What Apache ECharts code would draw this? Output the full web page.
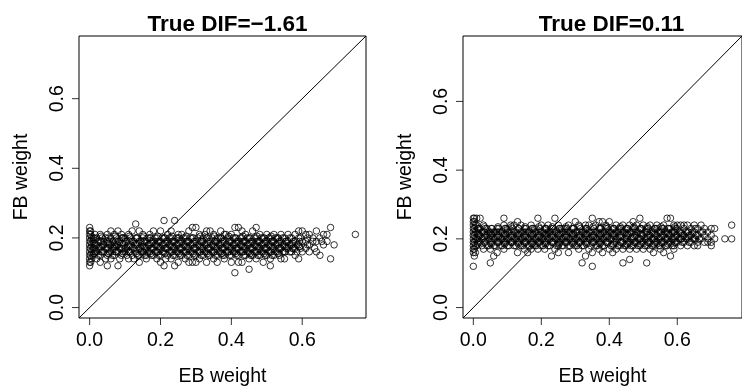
<!DOCTYPE html>
<html>
<head>
<meta charset="utf-8">
<script src="https://cdn.jsdelivr.net/npm/echarts@6/dist/echarts.min.js"></script>
<style>html,body{margin:0;padding:0;background:#fff}#c{width:742px;height:392px}</style>
</head>
<body>
<div id="c"></div>
<script>
// ---- data ----
const titles = ['True DIF=\u22121.61', 'True DIF=0.11'];
const xName = 'EB weight';
const yName = 'FB weight';
const tickValues = [0, 0.2, 0.4, 0.6];
const limLeft = [-0.03, 0.78];
const limRight = [-0.0304, 0.7904];

// [EB weight, FB weight]
const pointsLeft = [
[0,.12],[0,.13],[0,.14],[0,.15],[0,.16],[0,.17],[0,.18],[0,.19],[0,.20],[0,.21],[0,.22],[0,.23],
[.003,.13],[.003,.15],[.003,.17],[.003,.19],[.003,.21],[.003,.22],
[.006,.14],[.006,.16],[.006,.18],[.006,.20],
[.01,.15],[.01,.17],[.01,.19],[.01,.20],
[.02,.14],[.02,.16],[.02,.18],[.02,.20],
[.03,.13],[.03,.15],[.03,.17],[.03,.19],[.03,.21],
[.04,.16],[.04,.18],[.04,.19],
[.05,.12],[.05,.15],[.05,.17],[.05,.19],[.05,.21],
[.06,.14],[.06,.16],[.06,.18],[.06,.20],[.06,.22],
[.07,.15],[.07,.17],[.07,.18],[.07,.21],
[.08,.12],[.08,.16],[.08,.18],[.08,.19],[.08,.22],
[.09,.15],[.09,.17],[.09,.20],[.09,.21],
[.10,.16],[.10,.17],[.10,.19],[.10,.20],
[.11,.14],[.11,.16],[.11,.18],[.11,.21],
[.12,.15],[.12,.17],[.12,.19],[.12,.22],
[.13,.16],[.13,.18],[.13,.20],[.13,.24],
[.14,.13],[.14,.15],[.14,.17],[.14,.19],[.14,.22],
[.15,.16],[.15,.18],[.15,.20],[.15,.21],
[.16,.14],[.16,.15],[.16,.17],[.16,.19],
[.17,.16],[.17,.18],[.17,.20],[.17,.21],
[.18,.15],[.18,.17],[.18,.19],[.18,.22],
[.19,.14],[.19,.16],[.19,.18],[.19,.20],
[.20,.13],[.20,.15],[.20,.17],[.20,.19],[.20,.22],
[.21,.12],[.21,.16],[.21,.18],[.21,.20],[.21,.25],
[.22,.15],[.22,.17],[.22,.19],[.22,.21],
[.23,.14],[.23,.16],[.23,.18],[.23,.20],[.23,.22],
[.24,.12],[.24,.15],[.24,.17],[.24,.19],[.24,.25],
[.25,.13],[.25,.16],[.25,.18],[.25,.20],[.25,.21],
[.26,.15],[.26,.17],[.26,.19],[.26,.21],
[.27,.14],[.27,.16],[.27,.18],[.27,.20],
[.28,.13],[.28,.15],[.28,.17],[.28,.19],[.28,.22],
[.29,.13],[.29,.16],[.29,.18],[.29,.20],[.29,.23],
[.30,.13],[.30,.15],[.30,.17],[.30,.19],[.30,.23],
[.31,.14],[.31,.16],[.31,.18],[.31,.21],
[.32,.15],[.32,.17],[.32,.19],[.32,.20],
[.33,.13],[.33,.16],[.33,.18],[.33,.20],[.33,.22],
[.34,.15],[.34,.17],[.34,.19],[.34,.22],
[.35,.14],[.35,.16],[.35,.18],[.35,.21],
[.36,.13],[.36,.15],[.36,.17],[.36,.19],[.36,.20],
[.37,.16],[.37,.18],[.37,.20],[.37,.22],
[.38,.14],[.38,.15],[.38,.17],[.38,.19],[.38,.21],
[.39,.16],[.39,.18],[.39,.20],
[.40,.13],[.40,.15],[.40,.17],[.40,.19],[.40,.21],
[.41,.10],[.41,.16],[.41,.18],[.41,.20],[.41,.23],
[.42,.13],[.42,.15],[.42,.17],[.42,.19],[.42,.23],
[.43,.13],[.43,.16],[.43,.18],[.43,.20],[.43,.22],
[.44,.15],[.44,.17],[.44,.19],[.44,.21],
[.45,.11],[.45,.14],[.45,.16],[.45,.18],[.45,.20],
[.46,.15],[.46,.17],[.46,.19],[.46,.22],
[.47,.14],[.47,.16],[.47,.18],[.47,.20],[.47,.23],
[.48,.15],[.48,.17],[.48,.19],[.48,.21],
[.49,.13],[.49,.16],[.49,.18],[.49,.20],
[.50,.15],[.50,.17],[.50,.19],[.50,.21],
[.51,.12],[.51,.14],[.51,.16],[.51,.18],[.51,.20],
[.52,.15],[.52,.17],[.52,.19],[.52,.21],
[.53,.16],[.53,.18],[.53,.20],
[.54,.14],[.54,.17],[.54,.19],[.54,.21],
[.55,.14],[.55,.16],[.55,.18],[.55,.20],
[.56,.17],[.56,.19],[.56,.21],
[.57,.16],[.57,.18],[.57,.20],
[.58,.15],[.58,.17],[.58,.19],[.58,.21],
[.59,.14],[.59,.18],[.59,.20],[.59,.22],
[.60,.16],[.60,.19],[.60,.22],
[.61,.17],[.61,.19],[.61,.21],
[.62,.16],[.62,.18],[.62,.21],
[.63,.19],[.63,.20],
[.64,.16],[.64,.19],[.64,.22],
[.65,.15],[.65,.20],
[.66,.18],[.66,.21],
[.67,.19],[.67,.21],
[.68,.14],[.68,.23],
[.69,.18],
[.75,.21]
];
// more points of the dense core (left panel)
const pointsLeftCore = [
[.015,.16],[.015,.18],[.015,.21],[.025,.15],[.025,.17],[.025,.19],
[.035,.16],[.035,.18],[.035,.20],[.045,.14],[.045,.17],[.045,.20],
[.055,.16],[.055,.18],[.055,.19],[.065,.15],[.065,.17],[.065,.19],
[.075,.16],[.075,.18],[.075,.20],[.085,.14],[.085,.17],[.085,.19],
[.095,.16],[.095,.18],[.095,.20],[.105,.15],[.105,.17],[.105,.19],
[.115,.16],[.115,.18],[.115,.20],[.125,.14],[.125,.17],[.125,.19],
[.135,.15],[.135,.18],[.135,.20],[.145,.16],[.145,.17],[.145,.19],
[.155,.15],[.155,.17],[.155,.19],[.165,.16],[.165,.18],[.165,.20],
[.175,.15],[.175,.17],[.175,.19],[.185,.16],[.185,.18],[.185,.20],
[.195,.15],[.195,.17],[.195,.19],[.205,.16],[.205,.18],[.205,.20],
[.215,.14],[.215,.17],[.215,.19],[.225,.16],[.225,.18],[.225,.20],
[.235,.15],[.235,.17],[.235,.19],[.245,.16],[.245,.18],[.245,.20],
[.255,.15],[.255,.17],[.255,.19],[.265,.16],[.265,.18],[.265,.20],
[.275,.15],[.275,.17],[.275,.19],[.285,.16],[.285,.18],[.285,.20],
[.295,.15],[.295,.17],[.295,.19],[.305,.16],[.305,.18],[.305,.20],
[.315,.15],[.315,.17],[.315,.19],[.325,.16],[.325,.18],[.325,.21],
[.335,.15],[.335,.17],[.335,.19],[.345,.16],[.345,.18],[.345,.20],
[.355,.15],[.355,.17],[.355,.19],[.365,.16],[.365,.18],[.365,.20],
[.375,.15],[.375,.17],[.375,.19],[.385,.16],[.385,.18],[.385,.21],
[.395,.15],[.395,.17],[.395,.19],[.405,.16],[.405,.18],[.405,.20],
[.415,.15],[.415,.17],[.415,.19],[.425,.16],[.425,.18],[.425,.20],
[.435,.15],[.435,.17],[.435,.19],[.445,.16],[.445,.18],[.445,.20],
[.455,.15],[.455,.17],[.455,.19],[.465,.16],[.465,.18],[.465,.20],
[.475,.15],[.475,.17],[.475,.19],[.485,.16],[.485,.18],[.485,.20],
[.495,.15],[.495,.17],[.495,.19],[.505,.16],[.505,.18],[.505,.20],
[.515,.15],[.515,.17],[.515,.19],[.525,.16],[.525,.18],[.525,.20],
[.535,.15],[.535,.17],[.535,.19],[.545,.16],[.545,.18],[.545,.20],
[.555,.17],[.555,.19],[.565,.16],[.565,.18],[.565,.20],
[.575,.17],[.575,.19],[.585,.16],[.585,.18],[.595,.17],[.595,.20],
[.615,.18],[.615,.20],[.635,.17],[.655,.19]
];
const pointsLeftCore2 = [
[.0125,.155],[.0125,.17],[.0125,.185],[.0125,.20],[.0325,.16],[.0325,.175],[.0325,.19],[.0325,.205],
[.0525,.155],[.0525,.17],[.0525,.185],[.0525,.20],[.0725,.16],[.0725,.175],[.0725,.19],[.0725,.205],
[.0925,.155],[.0925,.17],[.0925,.185],[.0925,.20],[.1125,.16],[.1125,.175],[.1125,.19],[.1125,.205],
[.1325,.155],[.1325,.17],[.1325,.185],[.1325,.20],[.1525,.16],[.1525,.175],[.1525,.19],[.1525,.205],
[.1725,.155],[.1725,.17],[.1725,.185],[.1725,.20],[.1925,.16],[.1925,.175],[.1925,.19],[.1925,.205],
[.2125,.155],[.2125,.17],[.2125,.185],[.2125,.20],[.2325,.16],[.2325,.175],[.2325,.19],[.2325,.205],
[.2525,.155],[.2525,.17],[.2525,.185],[.2525,.20],[.2725,.16],[.2725,.175],[.2725,.19],[.2725,.205],
[.2925,.155],[.2925,.17],[.2925,.185],[.2925,.20],[.3125,.16],[.3125,.175],[.3125,.19],[.3125,.205],
[.3325,.155],[.3325,.17],[.3325,.185],[.3325,.20],[.3525,.16],[.3525,.175],[.3525,.19],[.3525,.205],
[.3725,.155],[.3725,.17],[.3725,.185],[.3725,.20],[.3925,.16],[.3925,.175],[.3925,.19],[.3925,.205],
[.4125,.155],[.4125,.17],[.4125,.185],[.4125,.20],[.4325,.16],[.4325,.175],[.4325,.19],[.4325,.205],
[.4525,.155],[.4525,.17],[.4525,.185],[.4525,.20],[.4725,.16],[.4725,.175],[.4725,.19],[.4725,.205],
[.4925,.155],[.4925,.17],[.4925,.185],[.4925,.20],[.5125,.16],[.5125,.175],[.5125,.19],[.5125,.205],
[.5325,.155],[.5325,.17],[.5325,.185],[.5325,.20],[.5525,.16],[.5525,.175],[.5525,.19],
[.5725,.17],[.5725,.185],[.5925,.175],[.5925,.19]
];

const pointsRight = [
[0,.12],[0,.16],[0,.17],[0,.18],[0,.19],[0,.20],[0,.21],[0,.22],[0,.23],[0,.24],[0,.25],[0,.26],
[.003,.15],[.003,.17],[.003,.19],[.003,.21],[.003,.23],[.003,.25],[.003,.26],
[.006,.16],[.006,.18],[.006,.20],[.006,.22],[.006,.24],
[.01,.18],[.01,.20],[.01,.22],[.01,.24],[.01,.26],
[.02,.19],[.02,.21],[.02,.23],[.02,.26],
[.03,.17],[.03,.20],[.03,.22],[.03,.24],
[.04,.18],[.04,.21],[.04,.23],
[.05,.13],[.05,.17],[.05,.19],[.05,.21],[.05,.22],
[.06,.15],[.06,.18],[.06,.20],[.06,.22],
[.07,.16],[.07,.19],[.07,.21],[.07,.23],
[.08,.18],[.08,.20],[.08,.22],
[.09,.17],[.09,.19],[.09,.21],[.09,.24],[.09,.26],
[.10,.18],[.10,.20],[.10,.22],[.10,.23],
[.11,.19],[.11,.21],[.11,.24],
[.12,.18],[.12,.20],[.12,.22],[.12,.24],
[.13,.16],[.13,.19],[.13,.21],[.13,.25],
[.14,.18],[.14,.20],[.14,.22],[.14,.24],
[.15,.17],[.15,.19],[.15,.21],[.15,.23],
[.16,.16],[.16,.18],[.16,.20],[.16,.22],
[.17,.17],[.17,.19],[.17,.21],[.17,.24],
[.18,.18],[.18,.20],[.18,.22],[.18,.23],
[.19,.17],[.19,.19],[.19,.21],[.19,.26],
[.20,.18],[.20,.20],[.20,.22],[.20,.24],
[.21,.17],[.21,.19],[.21,.21],[.21,.23],
[.22,.18],[.22,.20],[.22,.22],[.22,.24],
[.23,.15],[.23,.19],[.23,.21],[.23,.23],
[.24,.17],[.24,.20],[.24,.22],[.24,.26],
[.25,.16],[.25,.18],[.25,.19],[.25,.21],[.25,.24],
[.26,.18],[.26,.20],[.26,.22],[.26,.23],
[.27,.19],[.27,.21],[.27,.23],
[.28,.16],[.28,.18],[.28,.20],[.28,.22],[.28,.24],
[.29,.19],[.29,.21],[.29,.23],
[.30,.18],[.30,.20],[.30,.22],[.30,.25],
[.31,.17],[.31,.19],[.31,.21],[.31,.24],
[.32,.13],[.32,.18],[.32,.20],[.32,.22],
[.33,.15],[.33,.19],[.33,.21],[.33,.23],[.33,.24],
[.34,.17],[.34,.20],[.34,.22],[.34,.24],
[.35,.12],[.35,.16],[.35,.19],[.35,.21],[.35,.26],
[.36,.18],[.36,.20],[.36,.22],[.36,.24],
[.37,.17],[.37,.19],[.37,.21],[.37,.23],[.37,.25],
[.38,.16],[.38,.18],[.38,.20],[.38,.22],[.38,.25],
[.39,.19],[.39,.21],[.39,.23],[.39,.24],
[.40,.17],[.40,.20],[.40,.22],[.40,.25],
[.41,.16],[.41,.18],[.41,.21],[.41,.23],
[.42,.17],[.42,.19],[.42,.20],[.42,.22],[.42,.24],
[.43,.18],[.43,.21],[.43,.23],
[.44,.13],[.44,.17],[.44,.19],[.44,.22],[.44,.24],
[.45,.18],[.45,.20],[.45,.21],[.45,.23],
[.46,.14],[.46,.17],[.46,.19],[.46,.22],[.46,.24],
[.47,.18],[.47,.20],[.47,.23],[.47,.25],
[.48,.17],[.48,.19],[.48,.21],[.48,.22],[.48,.24],
[.49,.18],[.49,.20],[.49,.23],[.49,.26],
[.50,.17],[.50,.19],[.50,.21],[.50,.24],
[.51,.13],[.51,.18],[.51,.20],[.51,.22],[.51,.23],
[.52,.17],[.52,.19],[.52,.21],[.52,.24],
[.53,.16],[.53,.18],[.53,.20],[.53,.22],
[.54,.19],[.54,.21],[.54,.23],[.54,.24],
[.55,.17],[.55,.18],[.55,.20],[.55,.22],
[.56,.16],[.56,.19],[.56,.21],[.56,.23],[.56,.24],
[.57,.18],[.57,.20],[.57,.22],[.57,.26],
[.58,.15],[.58,.19],[.58,.21],[.58,.23],[.58,.26],
[.59,.17],[.59,.18],[.59,.20],[.59,.22],[.59,.24],
[.60,.19],[.60,.21],[.60,.23],[.60,.24],
[.61,.18],[.61,.20],[.61,.22],[.61,.24],
[.62,.19],[.62,.21],[.62,.23],[.62,.24],
[.63,.18],[.63,.20],[.63,.22],[.63,.24],
[.64,.19],[.64,.21],[.64,.23],
[.65,.18],[.65,.20],[.65,.22],[.65,.24],
[.66,.18],[.66,.19],[.66,.21],[.66,.23],
[.67,.20],[.67,.22],[.67,.24],
[.68,.19],[.68,.21],[.68,.23],
[.69,.19],[.69,.20],[.69,.22],
[.70,.18],[.70,.19],[.70,.21],[.70,.23],
[.71,.20],[.71,.23],
[.74,.20],
[.76,.20],[.76,.24]
];
// more points of the dense core (right panel)
const pointsRightCore = [
[.015,.19],[.015,.21],[.015,.23],[.025,.18],[.025,.20],[.025,.22],
[.035,.19],[.035,.21],[.035,.23],[.045,.18],[.045,.20],[.045,.22],
[.055,.19],[.055,.21],[.055,.23],[.065,.18],[.065,.20],[.065,.22],
[.075,.19],[.075,.21],[.075,.23],[.085,.18],[.085,.20],[.085,.22],
[.095,.19],[.095,.21],[.095,.23],[.105,.18],[.105,.20],[.105,.22],
[.115,.19],[.115,.21],[.115,.23],[.125,.18],[.125,.20],[.125,.22],
[.135,.19],[.135,.21],[.135,.23],[.145,.18],[.145,.20],[.145,.22],
[.155,.19],[.155,.21],[.155,.23],[.165,.18],[.165,.20],[.165,.22],
[.175,.19],[.175,.21],[.175,.23],[.185,.18],[.185,.20],[.185,.22],
[.195,.19],[.195,.21],[.195,.23],[.205,.18],[.205,.20],[.205,.22],
[.215,.19],[.215,.21],[.215,.23],[.225,.18],[.225,.20],[.225,.22],
[.235,.19],[.235,.21],[.235,.23],[.245,.18],[.245,.20],[.245,.22],
[.255,.19],[.255,.21],[.255,.23],[.265,.18],[.265,.20],[.265,.22],
[.275,.19],[.275,.21],[.275,.23],[.285,.18],[.285,.20],[.285,.22],
[.295,.19],[.295,.21],[.295,.23],[.305,.18],[.305,.20],[.305,.22],
[.315,.19],[.315,.21],[.315,.23],[.325,.18],[.325,.20],[.325,.22],
[.335,.19],[.335,.21],[.335,.23],[.345,.18],[.345,.20],[.345,.22],
[.355,.19],[.355,.21],[.355,.23],[.365,.18],[.365,.20],[.365,.22],
[.375,.19],[.375,.21],[.375,.23],[.385,.18],[.385,.20],[.385,.22],
[.395,.19],[.395,.21],[.395,.23],[.405,.18],[.405,.20],[.405,.22],
[.415,.19],[.415,.21],[.415,.23],[.425,.18],[.425,.20],[.425,.22],
[.435,.19],[.435,.21],[.435,.23],[.445,.18],[.445,.20],[.445,.22],
[.455,.19],[.455,.21],[.455,.23],[.465,.18],[.465,.20],[.465,.22],
[.475,.19],[.475,.21],[.475,.23],[.485,.18],[.485,.20],[.485,.22],
[.495,.19],[.495,.21],[.495,.23],[.505,.18],[.505,.20],[.505,.22],
[.515,.19],[.515,.21],[.515,.23],[.525,.18],[.525,.20],[.525,.22],
[.535,.19],[.535,.21],[.535,.23],[.545,.18],[.545,.20],[.545,.22],
[.555,.19],[.555,.21],[.555,.23],[.565,.18],[.565,.20],[.565,.22],
[.575,.19],[.575,.21],[.575,.23],[.585,.18],[.585,.20],[.585,.22],
[.595,.19],[.595,.21],[.595,.23],[.605,.20],[.605,.22],
[.615,.19],[.615,.21],[.625,.20],[.625,.22],[.635,.19],[.635,.21],
[.645,.20],[.645,.22],[.655,.21],[.665,.20],[.675,.22]
];
const pointsRightCore2 = [
[.0125,.185],[.0125,.20],[.0125,.215],[.0125,.23],[.0325,.19],[.0325,.205],[.0325,.22],[.0325,.235],
[.0525,.185],[.0525,.20],[.0525,.215],[.0525,.23],[.0725,.19],[.0725,.205],[.0725,.22],[.0725,.235],
[.0925,.185],[.0925,.20],[.0925,.215],[.0925,.23],[.1125,.19],[.1125,.205],[.1125,.22],[.1125,.235],
[.1325,.185],[.1325,.20],[.1325,.215],[.1325,.23],[.1525,.19],[.1525,.205],[.1525,.22],[.1525,.235],
[.1725,.185],[.1725,.20],[.1725,.215],[.1725,.23],[.1925,.19],[.1925,.205],[.1925,.22],[.1925,.235],
[.2125,.185],[.2125,.20],[.2125,.215],[.2125,.23],[.2325,.19],[.2325,.205],[.2325,.22],[.2325,.235],
[.2525,.185],[.2525,.20],[.2525,.215],[.2525,.23],[.2725,.19],[.2725,.205],[.2725,.22],[.2725,.235],
[.2925,.185],[.2925,.20],[.2925,.215],[.2925,.23],[.3125,.19],[.3125,.205],[.3125,.22],[.3125,.235],
[.3325,.185],[.3325,.20],[.3325,.215],[.3325,.23],[.3525,.19],[.3525,.205],[.3525,.22],[.3525,.235],
[.3725,.185],[.3725,.20],[.3725,.215],[.3725,.23],[.3925,.19],[.3925,.205],[.3925,.22],[.3925,.235],
[.4125,.185],[.4125,.20],[.4125,.215],[.4125,.23],[.4325,.19],[.4325,.205],[.4325,.22],[.4325,.235],
[.4525,.185],[.4525,.20],[.4525,.215],[.4525,.23],[.4725,.19],[.4725,.205],[.4725,.22],[.4725,.235],
[.4925,.185],[.4925,.20],[.4925,.215],[.4925,.23],[.5125,.19],[.5125,.205],[.5125,.22],[.5125,.235],
[.5325,.185],[.5325,.20],[.5325,.215],[.5325,.23],[.5525,.19],[.5525,.205],[.5525,.22],[.5525,.235],
[.5725,.185],[.5725,.20],[.5725,.215],[.5725,.23],[.5925,.19],[.5925,.205],[.5925,.22],[.5925,.235],
[.6125,.20],[.6125,.215],[.6325,.205],[.6325,.22],[.6525,.20],[.6525,.23]
];

// ---- chart ----
const FONT = "'Liberation Sans', Arial, Helvetica, sans-serif";
const FS = 19.5;
const TICK_LEN = 7;
const chart = echarts.init(document.getElementById('c'), null, {renderer: 'canvas'});

const grids = [
  {left: 79, top: 36, width: 287, height: 287},
  {left: 463, top: 36, width: 287, height: 287}
];
const lims = [limLeft, limRight];
const axisLineStyle = {show: false, onZero: false};

function xAxisFor(i) {
  return {
    type: 'value', gridIndex: i, min: lims[i][0], max: lims[i][1],
    name: xName, nameLocation: 'middle', nameGap: 49, nameMoveOverlap: false,
    nameTextStyle: {color: '#000', fontFamily: FONT, fontSize: FS},
    axisLine: axisLineStyle,
    axisTick: {show: false},
    axisLabel: {show: true, customValues: tickValues, margin: 13, color: '#000', fontFamily: FONT, fontSize: FS,
      hideOverlap: false, formatter: v => Number(v).toFixed(1)},
    splitLine: {show: false}
  };
}
function yAxisFor(i) {
  return {
    type: 'value', gridIndex: i, min: lims[i][0], max: lims[i][1],
    name: yName, nameLocation: 'middle', nameGap: 47, nameMoveOverlap: false,
    nameTextStyle: {color: '#000', fontFamily: FONT, fontSize: FS},
    axisLine: axisLineStyle,
    axisTick: {show: false},
    axisLabel: {show: true, customValues: tickValues, rotate: 90, margin: 11, color: '#000', fontFamily: FONT, fontSize: FS,
      hideOverlap: false, formatter: v => Number(v).toFixed(1)},
    splitLine: {show: false}
  };
}

const scatterStyle = {color: 'rgba(0,0,0,0)', borderColor: '#000', borderWidth: 1};
function scatter(i, data) {
  return {type: 'scatter', xAxisIndex: i, yAxisIndex: i, data: data, symbol: 'circle', symbolSize: 6.5,
    itemStyle: scatterStyle, silent: true, large: false};
}
// R-style tick marks outside the box, drawn as thin rect symbols at the tick values on the box edges
function xTickMarks(i) {
  const lo = lims[i][0];
  return {type: 'scatter', xAxisIndex: i, yAxisIndex: i, silent: true, clip: false, z: 10,
    data: tickValues.map(v => [v, lo]), symbol: 'rect', symbolSize: [1, TICK_LEN],
    symbolOffset: [0, TICK_LEN / 2], itemStyle: {color: '#000', borderWidth: 0}};
}
function yTickMarks(i) {
  const lo = lims[i][0];
  return {type: 'scatter', xAxisIndex: i, yAxisIndex: i, silent: true, clip: false, z: 10,
    data: tickValues.map(v => [lo, v]), symbol: 'rect', symbolSize: [TICK_LEN, 1],
    symbolOffset: [-TICK_LEN / 2, 0], itemStyle: {color: '#000', borderWidth: 0}};
}

chart.setOption({
  animation: false,
  backgroundColor: '#fff',
  title: [
    {text: titles[0], left: 222.5, top: 8, textAlign: 'center',
     textStyle: {fontFamily: FONT, fontSize: 22.5, fontWeight: 'bold', color: '#000'}},
    {text: titles[1], left: 606.5, top: 8, textAlign: 'center',
     textStyle: {fontFamily: FONT, fontSize: 22.5, fontWeight: 'bold', color: '#000'}}
  ],
  grid: grids.map(g => Object.assign({show: true, borderColor: '#000', borderWidth: 1, backgroundColor: 'transparent', containLabel: false}, g)),
  xAxis: [xAxisFor(0), xAxisFor(1)],
  yAxis: [yAxisFor(0), yAxisFor(1)],
  series: [
    scatter(0, pointsLeft), scatter(0, pointsLeftCore), scatter(0, pointsLeftCore2),
    scatter(1, pointsRight), scatter(1, pointsRightCore), scatter(1, pointsRightCore2),
    {type: 'line', xAxisIndex: 0, yAxisIndex: 0, data: [[limLeft[0], limLeft[0]], [limLeft[1], limLeft[1]]],
     symbol: 'none', lineStyle: {color: '#000', width: 1}, silent: true, clip: true},
    {type: 'line', xAxisIndex: 1, yAxisIndex: 1, data: [[limRight[0], limRight[0]], [limRight[1], limRight[1]]],
     symbol: 'none', lineStyle: {color: '#000', width: 1}, silent: true, clip: true},
    xTickMarks(0), yTickMarks(0), xTickMarks(1), yTickMarks(1)
  ]
});
</script>
</body>
</html>
